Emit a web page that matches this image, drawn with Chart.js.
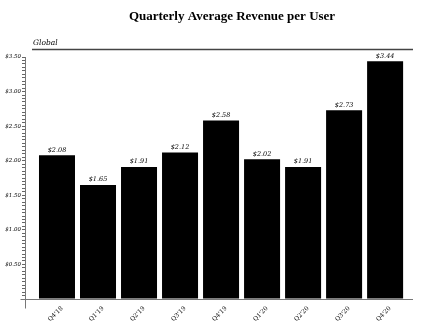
<!DOCTYPE html>
<html>
<head>
<meta charset="utf-8">
<script src="https://cdn.jsdelivr.net/npm/chart.js@4.4.1/dist/chart.umd.min.js"></script>
<style>
html,body{margin:0;padding:0;background:#fff;}
canvas{display:block;}
</style>
</head>
<body>
<canvas id="c" width="422" height="327"></canvas>
<script>
const categories = ["Q4'18","Q1'19","Q2'19","Q3'19","Q4'19","Q1'20","Q2'20","Q3'20","Q4'20"];
const arpu = [2.08, 1.65, 1.91, 2.12, 2.58, 2.02, 1.91, 2.73, 3.44];
const yMajorStep = 0.5;
const yMinorStep = 0.05;
const titleText = "Quarterly Average Revenue per User";
const regionText = "Global";

const serif = '"DejaVu Serif", "Liberation Serif", serif';

const decor = {
  id: 'decor',
  beforeDraw(chart) {
    const ctx = chart.ctx;
    ctx.save();
    ctx.fillStyle = '#fff';
    ctx.fillRect(0, 0, chart.width, chart.height);
    ctx.restore();
  },
  afterDraw(chart) {
    const ctx = chart.ctx;
    const xs = chart.scales.x, ys = chart.scales.y;
    const ca = chart.chartArea;
    ctx.save();
    // title
    ctx.fillStyle = '#000';
    ctx.font = 'bold 13px "Liberation Serif", serif';
    ctx.textAlign = 'center';
    ctx.textBaseline = 'middle';
    ctx.fillText(titleText, 232, 17);
    // region label
    ctx.font = 'italic 7.5px ' + serif;
    ctx.textAlign = 'left';
    ctx.fillText(regionText, 33, 43);
    // header rule
    ctx.strokeStyle = '#444';
    ctx.lineWidth = 1.5;
    ctx.beginPath();
    ctx.moveTo(32, 49.5);
    ctx.lineTo(ca.right, 49.5);
    ctx.stroke();
    // axes
    const y0 = Math.round(ys.getPixelForValue(0)) + 0.5;
    const yTop = ys.getPixelForValue(ys.max);
    const xL = Math.round(ca.left) + 0.5;
    ctx.strokeStyle = '#777';
    ctx.lineWidth = 1;
    ctx.beginPath();
    ctx.moveTo(xL - 5, y0);
    ctx.lineTo(ca.right, y0);
    ctx.moveTo(xL, yTop);
    ctx.lineTo(xL, y0 + 9);
    ctx.stroke();
    // value labels
    ctx.fillStyle = '#000';
    ctx.font = 'italic 6.5px ' + serif;
    ctx.textAlign = 'center';
    ctx.textBaseline = 'bottom';
    const meta = chart.getDatasetMeta(0);
    meta.data.forEach((bar, i) => {
      ctx.fillText('$' + arpu[i].toFixed(2), bar.x, bar.y - 2);
    });
    ctx.restore();
  }
};

new Chart(document.getElementById('c'), {
  type: 'bar',
  data: {
    datasets: [{
      data: arpu.map((v, i) => ({x: i, y: v})),
      backgroundColor: '#000',
      borderColor: '#555',
      borderWidth: 0,
      categoryPercentage: 1,
      barPercentage: 0.878
    }]
  },
  options: {
    responsive: false,
    animation: false,
    layout: { padding: { top: 57, right: 9, left: 0, bottom: 0 } },
    plugins: { legend: { display: false }, tooltip: { enabled: false }, title: { display: false } },
    scales: {
      x: {
        type: 'linear',
        offset: false,
        min: -0.78,
        max: 8.68,
        afterBuildTicks: (s) => { s.ticks = categories.map((_, i) => ({ value: i })); },
        afterFit: (s) => { s.height = 28; },
        grid: { display: false, offset: false },
        border: { display: false },
        ticks: {
          autoSkip: false,
          minRotation: 45,
          maxRotation: 45,
          padding: -2,
          labelOffset: 5,
          color: '#000',
          font: { family: serif, size: 6 },
          callback: (v) => categories[Math.round(v)]
        }
      },
      y: {
        min: 0,
        max: 3.5,
        afterFit: (s) => { s.width = 25; },
        border: { display: false },
        grid: {
          drawOnChartArea: false,
          tickLength: 3,
          color: '#666'
        },
        ticks: {
          stepSize: yMinorStep,
          autoSkip: false,
          maxTicksLimit: 200,
          padding: 1,
          color: '#000',
          font: { family: serif, size: 5.5, style: 'italic' },
          callback: (v) => {
            const r = v / yMajorStep;
            return (v > 0 && Math.abs(r - Math.round(r)) < 1e-6) ? '$' + v.toFixed(2) : '';
          }
        }
      }
    }
  },
  plugins: [decor]
});
</script>
</body>
</html>
